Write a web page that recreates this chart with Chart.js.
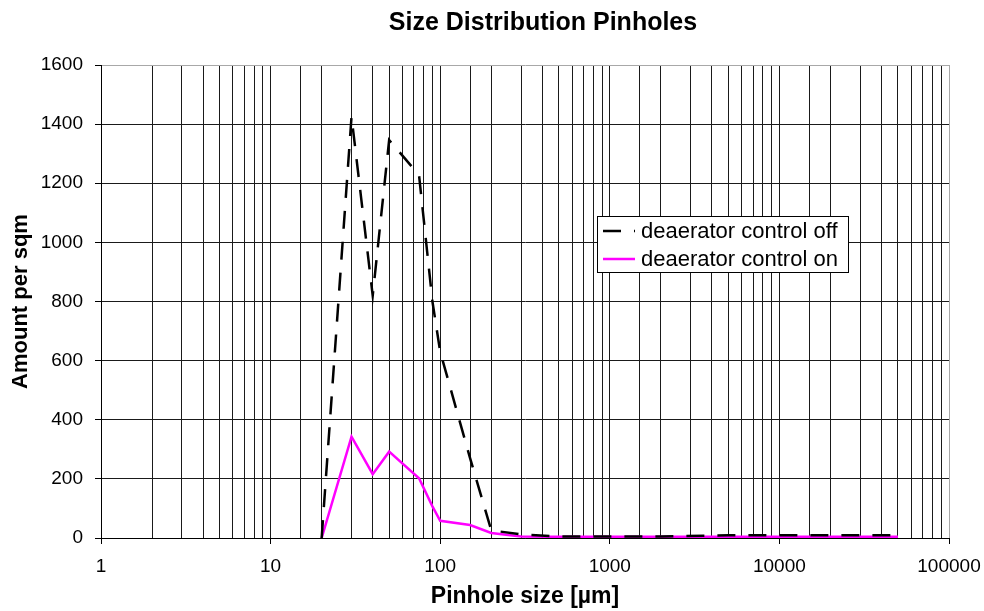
<!DOCTYPE html>
<html>
<head>
<meta charset="utf-8">
<script src="https://cdn.jsdelivr.net/npm/chart.js@4.4.0/dist/chart.umd.min.js"></script>
<style>
  html, body { margin: 0; padding: 0; background: #fff; }
  #wrap { position: relative; width: 984px; height: 611px; }
</style>
</head>
<body>
<div id="wrap"><canvas id="chart" width="984" height="611"></canvas></div>
<script>
// pinhole size classes (µm)
var sizes = [20, 30, 40, 50, 75, 90, 100, 150, 200, 300, 500, 1000, 2000, 5000, 10000, 20000, 50000];
// amount per sqm
var controlOff = [0, 1425, 820, 1346, 1228, 800, 630, 270, 26, 12, 5, 5, 5, 9, 9, 9, 9];
var controlOn = [0, 343, 216, 292, 202, 107, 58, 44, 17, 5, 4, 4, 4, 4, 4, 4, 4];
var yTicks = [0, 200, 400, 600, 800, 1000, 1200, 1400, 1600];
var xDecades = [1, 10, 100, 1000, 10000, 100000];

var FONT = "'Liberation Sans', Arial, sans-serif";

function pts(xs, ys) {
    return xs.map(function (x, i) { return {x: x, y: ys[i]}; });
}
function isDecade(v) {
    return xDecades.indexOf(v) >= 0;
}

// title drawn by hand so it sits where the original put it
var titlePlugin = {
    id: 'titleText',
    afterDraw: function (chart) {
        var ctx = chart.ctx;
        ctx.save();
        ctx.font = 'bold 25px ' + FONT;
        ctx.fillStyle = '#000';
        ctx.textAlign = 'center';
        ctx.textBaseline = 'alphabetic';
        ctx.fillText('Size Distribution Pinholes', 543, 30);
        ctx.restore();
    }
};

// boxed legend inside the plot area
var boxLegend = {
    id: 'boxLegend',
    afterDraw: function (chart) {
        var ctx = chart.ctx;
        var x0 = 597.5, y0 = 216.5, w = 251, h = 56;
        ctx.save();
        ctx.fillStyle = '#fff';
        ctx.fillRect(x0, y0, w, h);
        ctx.strokeStyle = '#000';
        ctx.lineWidth = 1;
        ctx.strokeRect(x0, y0, w, h);
        ctx.font = '22px ' + FONT;
        ctx.textBaseline = 'middle';
        ctx.textAlign = 'left';
        chart.data.datasets.forEach(function (ds, i) {
            var cy = 231 + i * 28;
            ctx.beginPath();
            ctx.setLineDash(ds.borderDash || []);
            ctx.lineCap = 'butt';
            ctx.strokeStyle = ds.borderColor;
            ctx.lineWidth = ds.borderWidth;
            ctx.moveTo(603, cy);
            ctx.lineTo(635, cy);
            ctx.stroke();
            ctx.setLineDash([]);
            ctx.fillStyle = '#000';
            ctx.fillText(ds.label, 641, cy + 1);
        });
        ctx.restore();
    }
};

new Chart(document.getElementById('chart').getContext('2d'), {
    type: 'line',
    data: {
        datasets: [{
            label: 'deaerator control off',
            data: pts(sizes, controlOff),
            borderColor: '#000',
            borderWidth: 2.5,
            borderDash: [18, 13],
            pointRadius: 0,
            fill: false,
            tension: 0
        }, {
            label: 'deaerator control on',
            data: pts(sizes, controlOn),
            borderColor: '#ff00ff',
            borderWidth: 2.5,
            pointRadius: 0,
            fill: false,
            tension: 0
        }]
    },
    options: {
        responsive: false,
        animation: false,
        layout: {padding: {top: 65, right: 35, left: 0, bottom: 0}},
        plugins: {
            legend: {display: false},
            title: {display: false},
            tooltip: {enabled: false}
        },
        scales: {
            x: {
                type: 'logarithmic',
                min: 1,
                max: 100000,
                afterFit: function (s) { s.height = 73; s.paddingLeft = 0; s.paddingRight = 0; },
                grid: {
                    color: function (c) { return c.tick && c.tick.value === 100000 ? '#a8a8a8' : '#1a1a1a'; },
                    lineWidth: 1,
                    drawTicks: true,
                    tickLength: 6,
                    tickColor: function (c) { return c.tick && isDecade(c.tick.value) ? '#000' : 'rgba(0,0,0,0)'; }
                },
                border: {color: '#000', width: 1},
                ticks: {
                    autoSkip: false,
                    maxRotation: 0,
                    padding: 11,
                    color: '#000',
                    font: {family: FONT, size: 19},
                    callback: function (v) { return isDecade(v) ? String(v) : ''; }
                },
                title: {
                    display: true,
                    text: 'Pinhole size [µm]',
                    color: '#000',
                    font: {family: FONT, size: 23, weight: 'bold'},
                    padding: {top: 0, bottom: 1}
                }
            },
            y: {
                min: 0,
                max: 1600,
                afterFit: function (s) { s.width = 101; s.paddingTop = 0; s.paddingBottom = 0; },
                afterBuildTicks: function (s) { s.ticks = yTicks.map(function (v) { return {value: v}; }); },
                grid: {
                    color: function (c) { return c.tick && c.tick.value === 1600 ? '#a8a8a8' : '#1a1a1a'; },
                    lineWidth: 1,
                    tickLength: 6,
                    tickColor: '#000'
                },
                border: {color: '#000', width: 1},
                ticks: {
                    padding: 12,
                    color: '#000',
                    font: {family: FONT, size: 19},
                    callback: function (v) { return String(v); }
                },
                title: {
                    display: true,
                    text: 'Amount per sqm',
                    color: '#000',
                    font: {family: FONT, size: 22, weight: 'bold'},
                    padding: {top: 8, bottom: 0}
                }
            }
        }
    },
    plugins: [titlePlugin, boxLegend]
});
</script>
</body>
</html>
